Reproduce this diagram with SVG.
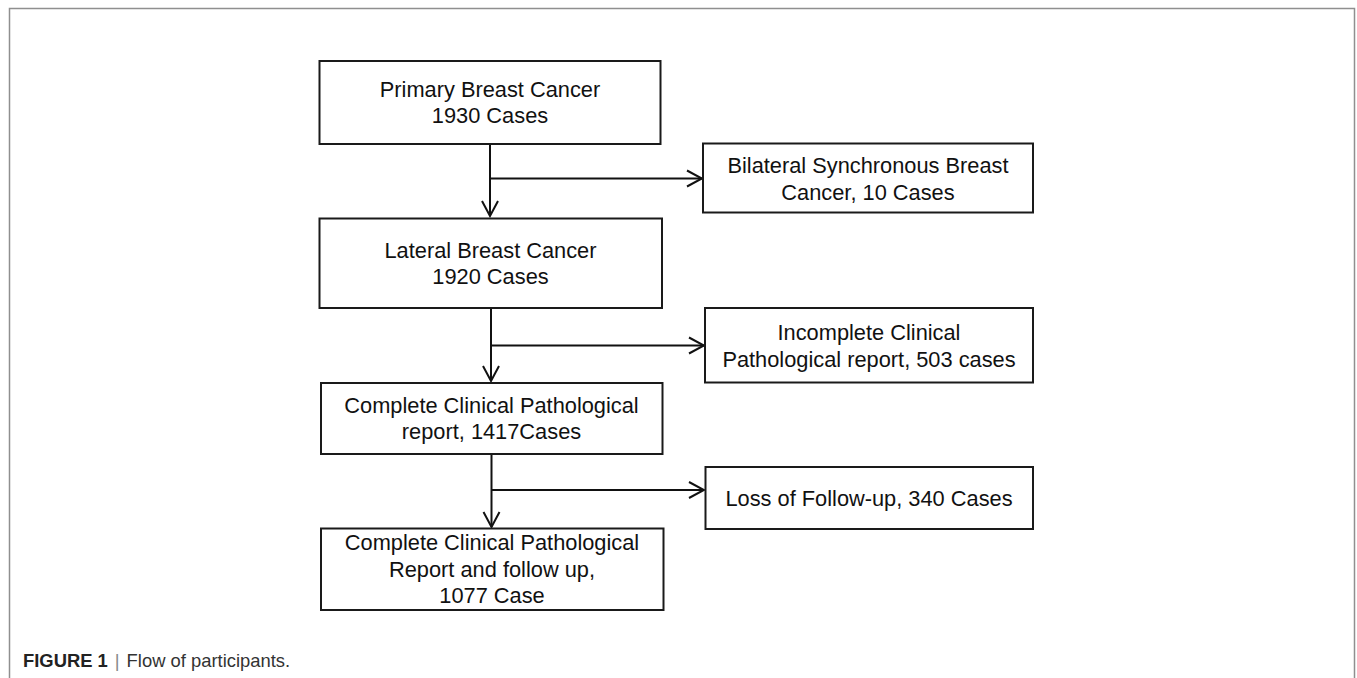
<svg xmlns="http://www.w3.org/2000/svg" width="1357" height="678" viewBox="0 0 1357 678">
<style>
.box{fill:#fff;stroke:#1a1a1a;stroke-width:2}
.t{font-family:"Liberation Sans",Arial,sans-serif;font-size:21.8px;fill:#111;text-anchor:middle}
.c{stroke:#111;stroke-width:2;fill:none}
.cap{font-family:"Liberation Sans",Arial,sans-serif;font-size:18.4px;fill:#333}
</style>
<defs>
<marker id="arr" markerUnits="userSpaceOnUse" markerWidth="18" markerHeight="20" viewBox="0 0 18 20" refX="16" refY="10" orient="auto">
<path d="M1,2 L16,10 L1,18" fill="none" stroke="#111" stroke-width="2"/>
</marker>
</defs>
<rect x="0" y="0" width="1357" height="678" fill="#fff"/>
<path d="M9.5,678 V8.5 H1354.5 V678" fill="none" stroke="#8f8f8f" stroke-width="1.5"/>

<g id="connectors">
<path class="c" d="M490,144 V216" marker-end="url(#arr)"/>
<path class="c" d="M490,178.5 H702" marker-end="url(#arr)"/>
<path class="c" d="M491,308 V381" marker-end="url(#arr)"/>
<path class="c" d="M491,345.5 H704" marker-end="url(#arr)"/>
<path class="c" d="M491.5,454 V527" marker-end="url(#arr)"/>
<path class="c" d="M491.5,490 H704" marker-end="url(#arr)"/>
</g>

<g id="n1">
<rect class="box" x="319.5" y="61" width="341" height="83"/>
<text class="t" x="490" y="97">Primary Breast Cancer</text>
<text class="t" x="490" y="123">1930 Cases</text>
</g>
<g id="n2">
<rect class="box" x="703" y="143.5" width="330" height="69"/>
<text class="t" x="868" y="172.5">Bilateral Synchronous Breast</text>
<text class="t" x="868" y="199.5">Cancer, 10 Cases</text>
</g>
<g id="n3">
<rect class="box" x="319.5" y="218.5" width="342.5" height="89.5"/>
<text class="t" x="490.5" y="258">Lateral Breast Cancer</text>
<text class="t" x="490.5" y="284">1920 Cases</text>
</g>
<g id="n4">
<rect class="box" x="705" y="308" width="328" height="74.5"/>
<text class="t" x="869" y="340">Incomplete Clinical</text>
<text class="t" x="869" y="366.5">Pathological report, 503 cases</text>
</g>
<g id="n5">
<rect class="box" x="321" y="383" width="341.5" height="71"/>
<text class="t" x="491.5" y="413">Complete Clinical Pathological</text>
<text class="t" x="491.5" y="438.5">report, 1417Cases</text>
</g>
<g id="n6">
<rect class="box" x="705.5" y="467" width="327.5" height="62"/>
<text class="t" x="869" y="506">Loss of Follow-up, 340 Cases</text>
</g>
<g id="n7">
<rect class="box" x="321" y="528.5" width="342.5" height="81.5"/>
<text class="t" x="492" y="550">Complete Clinical Pathological</text>
<text class="t" x="492" y="576.5">Report and follow up,</text>
<text class="t" x="492" y="602.5">1077 Case</text>
</g>

<g id="caption">
<text class="cap" x="23" y="667"><tspan font-weight="bold" fill="#222">FIGURE 1</tspan><tspan dx="7" fill="#888">|</tspan><tspan dx="7">Flow of participants.</tspan></text>
</g>
</svg>
